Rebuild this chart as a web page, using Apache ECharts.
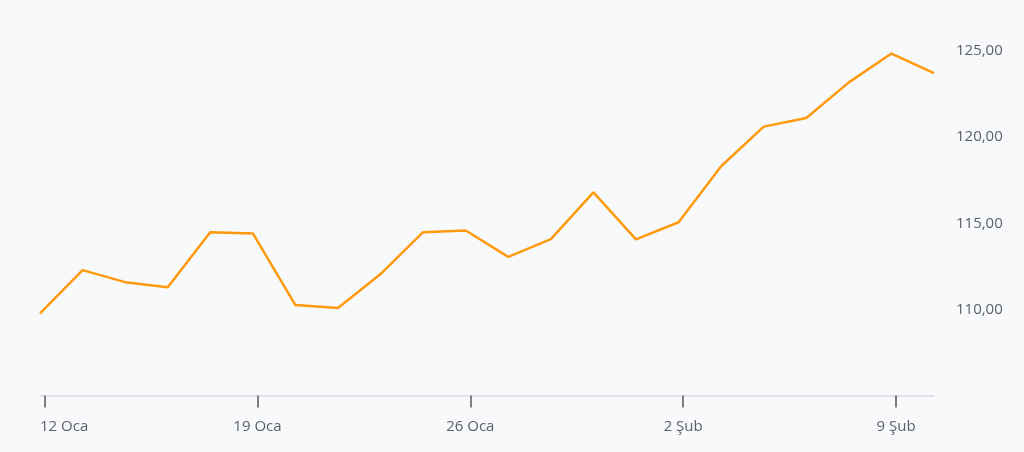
<!DOCTYPE html>
<html>
<head>
<meta charset="utf-8">
<script src="https://cdn.jsdelivr.net/npm/echarts@6/dist/echarts.min.js"></script>
<style>
html,body{margin:0;padding:0;background:#f8f9fb;}
#chart{width:1024px;height:452px;}
</style>
</head>
<body>
<div id="chart"></div>
<script>
const categories = [
  '12 Oca','13 Oca','14 Oca','15 Oca','16 Oca',
  '19 Oca','20 Oca','21 Oca','22 Oca','23 Oca',
  '26 Oca','27 Oca','28 Oca','29 Oca','30 Oca',
  '2 Şub','3 Şub','4 Şub','5 Şub','6 Şub',
  '9 Şub','10 Şub'
];
const prices = [
  109.77, 112.28, 111.58, 111.28, 114.48,
  114.41, 110.25, 110.08, 112.05, 114.48,
  114.58, 113.05, 114.08, 116.79, 114.06,
  115.06, 118.31, 120.61, 121.11, 123.18,
  124.85, 123.72
];
const tickLabels = ['12 Oca','19 Oca','26 Oca','2 Şub','9 Şub'];

// tick marks sit slightly after the data point of the same day
const TICK_SHIFT = 0.108;
const tickIdx = tickLabels.map(l => categories.indexOf(l));
const tickPos = tickIdx.map(i => i + TICK_SHIFT);
// first label is clamped to the left edge of the plot
const labelPos = tickPos.map((p, k) => (k === 0 ? 0 : p));

const chart = echarts.init(document.getElementById('chart'));
chart.setOption({
  backgroundColor: '#f8f9fb',
  animation: false,
  grid: { left: 40, right: 90, top: 51, bottom: 56.5 },
  xAxis: [{
    type: 'category',
    data: categories,
    boundaryGap: false,
    axisLine: { show: true, lineStyle: { color: '#dfe2e8', width: 2 } },
    axisTick: { show: false },
    axisLabel: { show: false },
    splitLine: { show: false }
  }, {
    type: 'value',
    position: 'bottom',
    min: 0,
    max: categories.length - 1,
    axisLine: { show: false },
    splitLine: { show: false },
    axisTick: {
      show: true,
      length: 12,
      customValues: tickPos,
      lineStyle: { color: '#555', width: 1.5 }
    },
    axisLabel: {
      margin: 24,
      color: '#5a5f6c',
      fontFamily: 'Open Sans',
      fontSize: 15,
      customValues: labelPos,
      alignMinLabel: 'left',
      formatter: v => {
        const k = labelPos.findIndex(p => Math.abs(p - v) < 1e-6);
        return k >= 0 ? tickLabels[k] : '';
      }
    }
  }],
  yAxis: {
    type: 'value',
    position: 'right',
    min: 105,
    max: 125,
    interval: 5,
    axisLine: { show: false },
    axisTick: { show: false },
    splitLine: { show: false },
    axisLabel: {
      margin: 22,
      color: '#5a5f6c',
      fontFamily: 'Open Sans',
      fontSize: 15,
      showMinLabel: false,
      formatter: v => v.toFixed(2).replace('.', ',')
    }
  },
  series: [{
    type: 'line',
    xAxisIndex: 0,
    data: prices,
    showSymbol: false,
    symbol: 'none',
    lineStyle: { color: '#ff9a0e', width: 2.5 },
    itemStyle: { color: '#ff9a0e' }
  }]
});
</script>
</body>
</html>
